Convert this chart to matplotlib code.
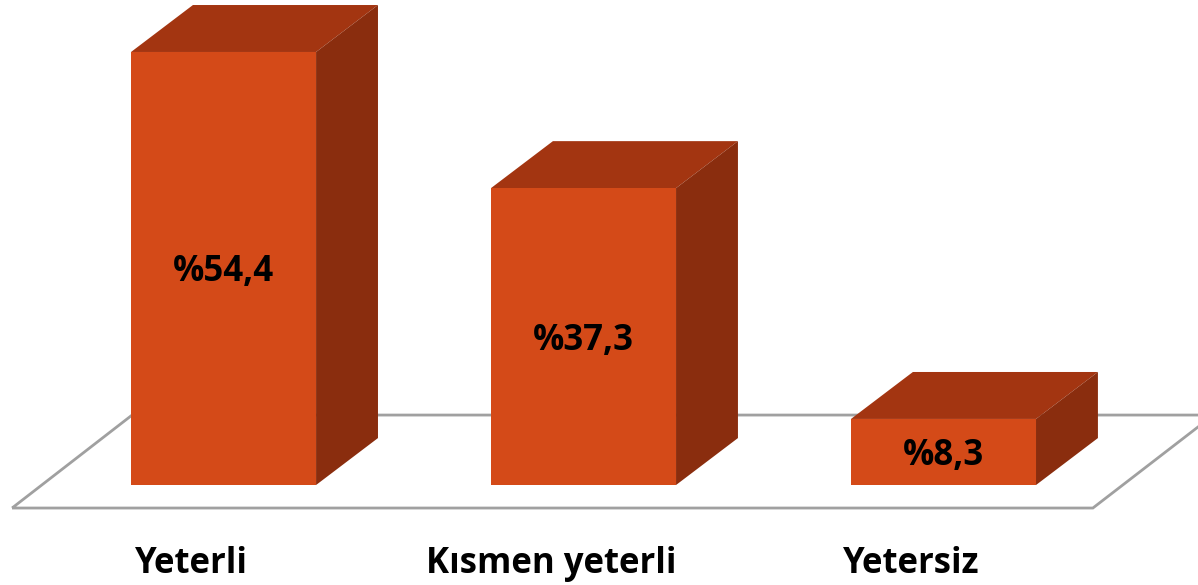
import matplotlib.pyplot as plt
from matplotlib.patches import Polygon

categories = ["Yeterli", "Kısmen yeterli", "Yetersiz"]
values = [54.4, 37.3, 8.3]
labels = ["%54,4", "%37,3", "%8,3"]

front_c = "#D44A18"
top_c = "#A33511"
side_c = "#8A2D0E"
floor_c = "#A0A0A0"

W, H = 1198, 585
fig = plt.figure(figsize=(W / 100, H / 100), dpi=100)
ax = fig.add_axes([0, 0, 1, 1])
ax.set_xlim(-0.621, 2.707)
ax.set_ylim(-12.56, 60.93)
ax.axis('off')

bw = 0.514      # bar width (category units)
ddx = 0.172     # depth offset in x
ddy = 5.9       # depth offset in y

# floor parallelogram
floor = Polygon([(-0.5875, -2.89), (2.415, -2.89), (2.75, 8.79), (-0.254, 8.79)],
                closed=True, fill=False, edgecolor=floor_c, lw=2, zorder=1)
ax.add_patch(floor)

for i, v in enumerate(values):
    x0, x1 = i - bw / 2, i + bw / 2
    # front
    ax.bar(i, v, width=bw, color=front_c, zorder=3)
    # top
    ax.add_patch(Polygon([(x0, v), (x1, v), (x1 + ddx, v + ddy), (x0 + ddx, v + ddy)],
                         closed=True, color=top_c, lw=0, zorder=2))
    # side
    ax.add_patch(Polygon([(x1, 0), (x1 + ddx, ddy), (x1 + ddx, v + ddy), (x1, v)],
                         closed=True, color=side_c, lw=0, zorder=2))
    ax.text(i, v / 2 - 0.5, labels[i], ha='center', va='center', fontsize=25,
            fontweight='bold', family='Open Sans', color='black', zorder=4)
    # category labels sit at the front edge of the floor, shifted left
    ax.text(i - 0.09, -9.9, categories[i], ha='center', va='center', fontsize=25,
            fontweight='bold', family='Open Sans', color='black', zorder=4)

fig.savefig("out.png", dpi=100)
